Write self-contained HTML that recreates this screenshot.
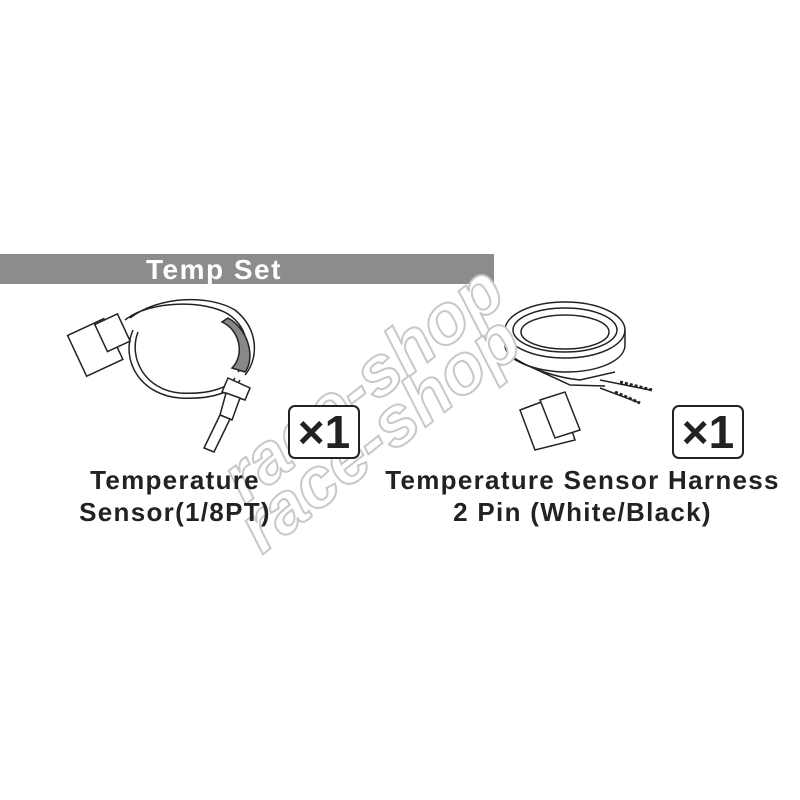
<!DOCTYPE html>
<html><head><style>
body{margin:0;width:800px;height:800px;background:#fff;position:relative;overflow:hidden;font-family:"Liberation Sans",sans-serif}
.bar{position:absolute;left:0;top:254px;width:494px;height:30px;background:#8c8c8c}
.bar span{position:absolute;left:146px;top:0;font-weight:bold;font-size:28px;letter-spacing:1.5px;color:#fff;line-height:31px}
.badge{position:absolute;width:68px;height:50px;border:2px solid #222;border-radius:7px;font-weight:bold;font-size:46px;line-height:50px;text-align:center;color:#222;background:#fff}
.lbl{position:absolute;font-weight:bold;font-size:26px;letter-spacing:1.3px;color:#222;text-align:center;line-height:32px;white-space:nowrap}
</style></head><body>
<div class="bar"><span>Temp Set</span></div>
<svg width="800" height="800" style="position:absolute;left:0;top:0">
<g fill="none" stroke="#222" stroke-width="1.5">
<path d="M130 318 C160 295 210 295 235 310 C260 330 258 360 245 375 M125 320 C150 300 205 300 228 314 C252 330 250 358 238 372"/>
<path d="M133 330 C120 360 140 395 180 398 C215 400 235 390 240 380 M138 332 C128 358 145 390 180 393 C212 395 230 386 235 378"/>
<path d="M228 318 C250 330 255 360 245 372 L232 368 C245 355 240 330 222 322 Z" fill="#888"/>
<rect x="75" y="325" width="40" height="45" transform="rotate(-25 95 347)" fill="#fff"/>
<rect x="100" y="318" width="25" height="30" transform="rotate(-25 112 333)" fill="#fff"/>
<path d="M228 378 L250 388 L245 400 L222 392 Z" fill="#fff"/>
<path d="M226 393 L240 398 L232 420 L220 415 Z" fill="#fff"/>
<path d="M220 415 L230 419 L214 452 L204 448 Z" fill="#fff"/>
<ellipse cx="565" cy="330" rx="60" ry="28"/>
<ellipse cx="565" cy="330" rx="52" ry="22"/>
<ellipse cx="565" cy="332" rx="44" ry="17"/>
<path d="M505 330 L505 345 C505 362 540 372 565 372 C600 372 625 360 625 345 L625 330"/>
<path d="M510 355 C530 370 560 378 580 380 L615 372 M520 362 L570 385 L605 386"/>
<path d="M600 380 L650 390 M600 388 L640 403"/>
<path d="M620 382 L652 390 M615 392 L640 403" stroke-dasharray="3 2" stroke-width="3"/>
<path d="M520 410 L560 395 L575 440 L535 450 Z" fill="#fff"/>
<path d="M540 400 L565 392 L580 430 L555 438 Z" fill="#fff"/>
</g>
<g font-family="Liberation Sans,sans-serif" font-style="italic" font-weight="bold" font-size="70" fill="#fff" stroke="#c8c8c8" stroke-width="2">
<text x="0" y="0" transform="translate(245 505) rotate(-38)">race-shop</text>
<text x="0" y="0" transform="translate(262 555) rotate(-38)">race-shop</text>
</g>
</svg>
<div class="badge" style="left:288px;top:405px">×1</div>
<div class="badge" style="left:672px;top:405px">×1</div>
<div class="lbl" style="left:40px;top:464px;width:270px">Temperature<br>Sensor(1/8PT)</div>
<div class="lbl" style="left:370px;top:464px;width:425px">Temperature Sensor Harness<br>2 Pin (White/Black)</div>
</body></html>
